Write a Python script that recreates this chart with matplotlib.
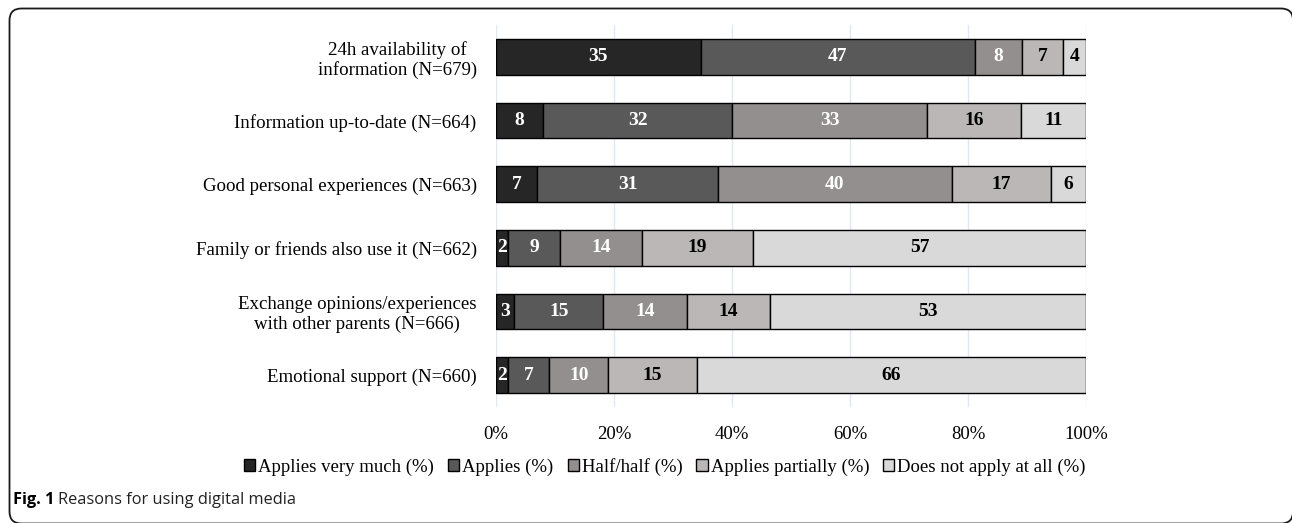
import numpy as np
import matplotlib.pyplot as plt
from matplotlib.patches import FancyBboxPatch

# Data (percent of respondents per category)
reasons = [
    "24h availability of\ninformation (N=679)",
    "Information up-to-date (N=664)",
    "Good personal experiences (N=663)",
    "Family or friends also use it (N=662)",
    "Exchange opinions/experiences\nwith other parents (N=666)",
    "Emotional support (N=660)",
]
series_names = [
    "Applies very much (%)",
    "Applies (%)",
    "Half/half (%)",
    "Applies partially (%)",
    "Does not apply at all (%)",
]
applies_very_much = [35, 8, 7, 2, 3, 2]
applies = [47, 32, 31, 9, 15, 7]
half_half = [8, 33, 40, 14, 14, 10]
applies_partially = [7, 16, 17, 19, 14, 15]
not_at_all = [4, 11, 6, 57, 53, 66]

colors = ["#262626", "#595959", "#948F8F", "#BBB7B7", "#D9D9D9"]
text_colors = ["white", "white", "white", "black", "black"]

serif = "Liberation Serif"

fig = plt.figure(figsize=(12.92, 5.23), dpi=100)
ax = fig.add_axes([0.384, 0.222, 0.4567, 0.730])

values = np.array([applies_very_much, applies, half_half,
                   applies_partially, not_at_all], dtype=float)
shares = values / values.sum(axis=0) * 100  # 100% stacked
y = np.arange(len(reasons))
left = np.zeros(len(reasons))
for i, name in enumerate(series_names):
    bars = ax.barh(y, shares[i], left=left, height=0.56, color=colors[i],
                   edgecolor="black", linewidth=1.0, label=name, zorder=3)
    for b, v in zip(bars, values[i]):
        ax.text(b.get_x() + b.get_width() / 2, b.get_y() + b.get_height() / 2,
                f"{v:.0f}", ha="center", va="center", color=text_colors[i],
                fontsize=14, fontweight="bold", family=serif, zorder=4)
    left += shares[i]

ax.set_xlim(0, 100)
ax.set_ylim(len(reasons) - 0.5, -0.5)
ax.set_yticks(y)
ax.set_yticklabels(reasons, family=serif, fontsize=13.6, linespacing=1.15,
                   multialignment="center")
ax.set_xticks(np.arange(0, 101, 20))
ax.set_xticklabels([f"{t}%" for t in range(0, 101, 20)], family=serif, fontsize=13.5)
ax.tick_params(length=0, pad=14)
ax.tick_params(axis="x", pad=14)
ax.grid(axis="x", color="#E2E7EE", linewidth=1.0, zorder=0)
for s in ax.spines.values():
    s.set_visible(False)

ax.legend(loc="center", bbox_to_anchor=(0.5 * (243 + 1087) / 1292, 1 - 467 / 523),
          bbox_transform=fig.transFigure, ncol=5, frameon=False,
          prop={"family": serif, "size": 13.5}, handlelength=0.6, handleheight=0.6,
          handletextpad=0.15, columnspacing=0.75, borderpad=0)

# caption and frame
fig.text(13 / 1292, 1 - 500 / 523, "Fig. 1", fontsize=11.8, fontweight="bold",
         family="Open Sans", va="center", ha="left")
fig.text(58 / 1292, 1 - 500 / 523, "Reasons for using digital media", fontsize=11.8,
         family="Open Sans", va="center", ha="left", color="#222222")
# rounded panel frame, drawn in inches so the corners stay circular
frame = FancyBboxPatch((0.095, -0.005), 12.93 - 0.095, 5.15,
                       boxstyle="round,pad=0,rounding_size=0.12",
                       transform=fig.dpi_scale_trans, fill=False,
                       edgecolor="#1a1a1a", linewidth=1.3, clip_on=False)
fig.patches.append(frame)

fig.savefig("out.png", dpi=100)
